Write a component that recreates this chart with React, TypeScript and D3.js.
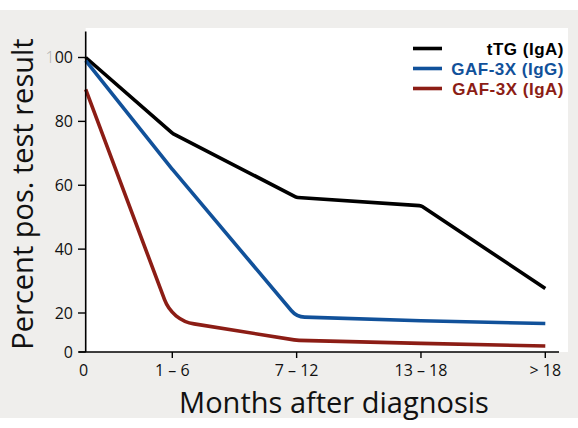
import React, { useEffect, useRef } from 'react';
import * as d3 from 'd3';

// x categories (months after diagnosis)
const categories = ['0', '1 \u2013 6', '7 \u2013 12', '13 \u2013 18', '> 18'];
const yTicks = [0, 20, 40, 60, 80, 100];

// percent positive test result per category
const tTG_IgA = [100, 76.3, 56.2, 53.6, 27.7];
const GAF_IgG = [99, 65, 18, 16, 14.6];
const GAF_IgA = [90, 16.2, 6, 4.4, 3.1];

const series = [
  { name: 'tTG (IgA)', values: tTG_IgA, color: '#000000', radius: 6 },
  { name: 'GAF-3X (IgG)', values: GAF_IgG, color: '#11519a', radius: 18 },
  { name: 'GAF-3X (IgA)', values: GAF_IgA, color: '#8c1d15', radius: 38 },
];

const W = 578;
const H = 428;
const FONT = '"Open Sans", "DejaVu Sans", sans-serif';

export default function App() {
  const svgRef = useRef<SVGSVGElement>(null);

  useEffect(() => {
    if (!svgRef.current) return;
    const svg = d3.select(svgRef.current);
    svg.selectAll('*').remove();

    // the original axes are squeezed near the origin, hence piecewise scales
    const x = d3.scaleLinear().domain([0, 1, 4]).range([85.7, 172.3, 545.3]);
    const y = d3.scaleLinear().domain([0, 20, 100]).range([352, 313, 57.5]);

    // background
    svg.append('rect').attr('x', 0).attr('y', 10).attr('width', W).attr('height', 408).attr('fill', '#efeeec');
    svg.append('rect')
      .attr('x', x(0)).attr('y', 28)
      .attr('width', 568 - x(0)).attr('height', y(0) - 28)
      .attr('fill', '#ffffff');

    const g = svg.append('g');

    // rounded-corner polyline through the points
    const roundedPath = (pts: [number, number][], r: number) => {
      const p = d3.path();
      p.moveTo(pts[0][0], pts[0][1]);
      for (let i = 1; i < pts.length - 1; i++) {
        p.arcTo(pts[i][0], pts[i][1], pts[i + 1][0], pts[i + 1][1], r);
      }
      const last = pts[pts.length - 1];
      p.lineTo(last[0], last[1]);
      return p.toString();
    };

    series.forEach((s) => {
      const pts = s.values.map((v, i) => [x(i), y(v)] as [number, number]);
      g.append('path')
        .attr('d', roundedPath(pts, s.radius))
        .attr('fill', 'none')
        .attr('stroke', s.color)
        .attr('stroke-width', 3.6)
        .attr('stroke-linejoin', 'round');
    });

    // axes
    g.append('line')
      .attr('x1', x(0)).attr('x2', x(0))
      .attr('y1', 31.5).attr('y2', y(0))
      .attr('stroke', '#000').attr('stroke-width', 1.6);
    g.append('line')
      .attr('x1', 79).attr('x2', 559)
      .attr('y1', y(0)).attr('y2', y(0))
      .attr('stroke', '#000').attr('stroke-width', 1.6);

    yTicks.forEach((t) => {
      g.append('line')
        .attr('x1', 78).attr('x2', x(0))
        .attr('y1', y(t)).attr('y2', y(t))
        .attr('stroke', '#000').attr('stroke-width', 1.4);
      const txt = g.append('text')
        .attr('x', 73).attr('y', y(t))
        .attr('dy', '0.36em')
        .attr('text-anchor', 'end')
        .style('font-family', FONT)
        .style('font-size', '16px')
        .style('fill', '#111');
      if (t === 100) {
        txt.append('tspan').style('fill', '#b0b0b0').style('font-weight', 300).text('1');
        txt.append('tspan').text('00');
      } else {
        txt.text(String(t));
      }
    });

    categories.forEach((c, i) => {
      if (i > 0) {
        g.append('line')
          .attr('x1', x(i)).attr('x2', x(i))
          .attr('y1', y(0)).attr('y2', y(0) + 6)
          .attr('stroke', '#000').attr('stroke-width', 1.4);
      }
      g.append('text')
        .attr('x', i === 0 ? x(i) - 2 : x(i))
        .attr('y', 376)
        .attr('text-anchor', 'middle')
        .style('font-family', FONT)
        .style('font-size', '16px')
        .style('fill', '#111')
        .text(c);
    });

    // axis titles
    svg.append('text')
      .attr('x', 334).attr('y', 413)
      .attr('text-anchor', 'middle')
      .style('font-family', FONT)
      .style('font-size', '29px')
      .style('fill', '#111')
      .text('Months after diagnosis');

    svg.append('text')
      .attr('transform', 'translate(33, 194) rotate(-90)')
      .attr('text-anchor', 'middle')
      .style('font-family', FONT)
      .style('font-size', '29px')
      .style('fill', '#111')
      .text('Percent pos. test result');

    // legend
    const legend = svg.append('g');
    series.forEach((s, i) => {
      const ly = 48.5 + i * 20;
      legend.append('line')
        .attr('x1', 413).attr('x2', 442)
        .attr('y1', ly).attr('y2', ly)
        .attr('stroke', s.color).attr('stroke-width', 3.6);
      legend.append('text')
        .attr('x', 564).attr('y', ly)
        .attr('dy', '0.36em')
        .attr('text-anchor', 'end')
        .style('font-family', '"Liberation Sans", Arial, sans-serif')
        .style('font-weight', 'bold')
        .style('font-size', '17px')
        .style('letter-spacing', '0.5px')
        .style('fill', s.color)
        .text(s.name);
    });
  }, []);

  return (
    <svg
      ref={svgRef}
      width={W}
      height={H}
      viewBox={`0 0 ${W} ${H}`}
      style={{ position: 'absolute', left: 0, top: 0, background: '#fff' }}
    />
  );
}
